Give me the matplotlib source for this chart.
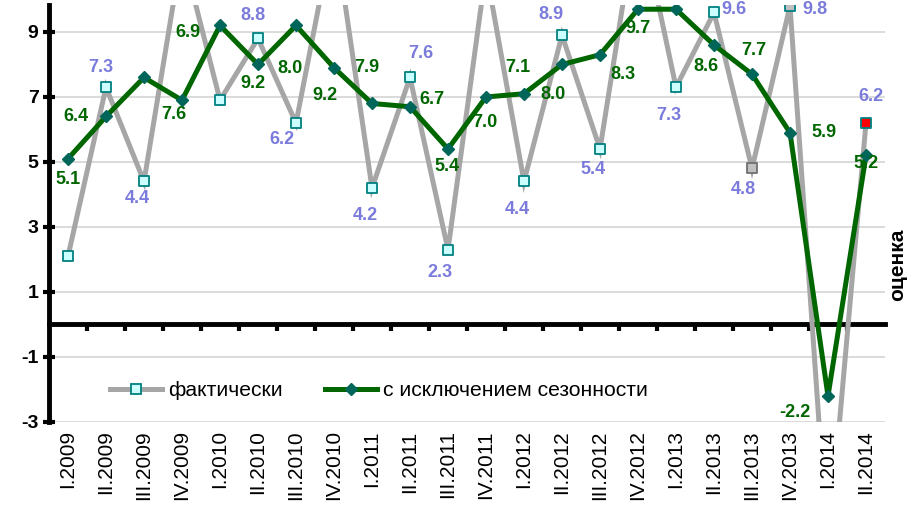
import matplotlib
matplotlib.use("Agg")
import matplotlib.pyplot as plt
import numpy as np

plt.rcParams['font.family'] = ['Liberation Sans', 'DejaVu Sans']
plt.rcParams['axes.unicode_minus'] = False

categories = ["I.2009", "II.2009", "III.2009", "IV.2009",
              "I.2010", "II.2010", "III.2010", "IV.2010",
              "I.2011", "II.2011", "III.2011", "IV.2011",
              "I.2012", "II.2012", "III.2012", "IV.2012",
              "I.2013", "II.2013", "III.2013", "IV.2013",
              "I.2014", "II.2014"]

actual = [2.1, 7.3, 4.4, 11.5, 6.9, 8.8, 6.2, 12.2, 4.2, 7.6, 2.3, 10.9,
          4.4, 8.9, 5.4, 12.8, 7.3, 9.6, 4.8, 9.8, -7.0, 6.2]
seasonal = [5.1, 6.4, 7.6, 6.9, 9.2, 8.0, 9.2, 7.9, 6.8, 6.7, 5.4, 7.0,
            7.1, 8.0, 8.3, 9.7, 9.7, 8.6, 7.7, 5.9, -2.2, 5.2]

# which points carry a value label
actual_labeled = [False, True, True, False, False, True, True, False, True, True, True, False,
                  True, True, True, False, True, True, True, True, False, True]
seasonal_labeled = [True, True, True, True, True, True, True, True, False, True, True, True,
                    True, True, True, True, False, True, True, True, True, True]

# label offsets in pixels (dx, dy with y up)
actual_off = [None, (-5, 20), (-7, -17), None, None, (-5, 23), (-14, -17), None,
              (-7, -28), (11, 24), (-8, -23), None, (-7, -28), (-11, 21), (-7, -21), None,
              (-7, -28), (20, 3), (-9, -21), (25, -4), None, (5, 26)]
seasonal_off = [(0, -21), (-30, 0), (30, -37), (6, 68), (33, -58), (32, -4), (29, -70), (33, 0),
                None, (22, 7), (-1, -18), (-1, -26), (-6, 26), (-9, -30), (23, -20), (0, -19),
                None, (-8, -22), (2, 24), (34, 0), (-33, -17), (0, -8)]

actual_fill = ['#CCFFFF'] * 18 + ['#C0C0C0', '#C0C0C0', '#CCFFFF', '#FF0000']
actual_edge = ['#008080'] * 18 + ['#707070', '#008080', '#008080', '#008080']

gray_line = '#A6A6A6'
green_line = '#006600'
blue_txt = '#7B7BDB'

fig = plt.figure(figsize=(9.14, 5.12), dpi=100)
ax = fig.add_axes([49 / 914, 90 / 512, 836 / 914, 417 / 512])

x = np.arange(len(categories))

ax.plot(x, actual, color=gray_line, lw=3.6, zorder=2, solid_joinstyle='miter',
        label='фактически', marker='s', ms=7, mfc='#CCFFFF', mec='#008080', mew=1.3,
        markevery=[])
ax.scatter(x, actual, marker='s', s=52, c=actual_fill, edgecolors=actual_edge,
           linewidths=1.3, zorder=3)
ax.plot(x, seasonal, color=green_line, lw=3.6, zorder=4, marker='D', ms=6,
        mfc='#00665A', mec='#00665A', label='с исключением сезонности')

for i, (v, lab, off) in enumerate(zip(actual, actual_labeled, actual_off)):
    if lab:
        ax.annotate(f"{v:.1f}", (i, v), xytext=off, textcoords='offset pixels',
                    ha='center', va='center', color=blue_txt, fontsize=13,
                    fontweight='bold', zorder=6, annotation_clip=False)
for i, (v, lab, off) in enumerate(zip(seasonal, seasonal_labeled, seasonal_off)):
    if lab:
        ax.annotate(f"{v:.1f}", (i, v), xytext=off, textcoords='offset pixels',
                    ha='center', va='center', color=green_line, fontsize=13,
                    fontweight='bold', zorder=6, annotation_clip=False)

ax.set_xlim(-0.5, len(categories) - 0.5)
ax.set_ylim(-3, 9.83)

for s in ['top', 'right']:
    ax.spines[s].set_visible(False)
ax.spines['left'].set_linewidth(3.5)
ax.spines['bottom'].set_position(('data', 0))
ax.spines['bottom'].set_linewidth(3.5)
ax.spines['bottom'].set_zorder(1)

ax.set_yticks([-3, -1, 1, 3, 5, 7, 9])
ax.tick_params(axis='y', direction='inout', length=9, width=3, labelsize=14, pad=3)
for t in ax.get_yticklabels():
    t.set_fontweight('bold')
ax.set_xticks(np.arange(0.5, len(categories) - 0.5, 1.0))
ax.tick_params(axis='x', direction='out', length=5, width=3, labelbottom=False)

ax.grid(axis='y', color='#D4D4D4', lw=1.2, zorder=0)
ax.set_axisbelow(True)

sec = ax.secondary_xaxis(0)
sec.set_xticks(x, categories, rotation=90, fontsize=15)
sec.tick_params(length=0, pad=6)
sec.spines['bottom'].set_visible(False)

leg = ax.legend(loc='center left', bbox_to_anchor=((102 - 49) / 836, (422 - 391) / 417),
                ncol=2, frameon=False, fontsize=15.2, handlelength=2.45,
                columnspacing=2.0, handletextpad=0.3, borderaxespad=0)

fig.text(898 / 914, 1 - 265 / 512, 'оценка', rotation=90, ha='center', va='center',
         fontsize=15, fontweight='bold')

fig.savefig('out.png', dpi=100)
